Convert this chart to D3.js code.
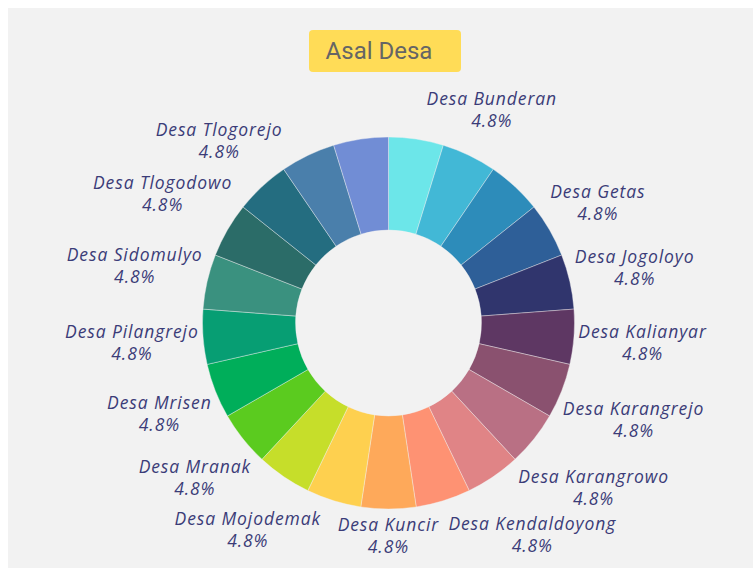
<!DOCTYPE html>
<html>
<head>
<meta charset="utf-8">
<script src="https://cdn.jsdelivr.net/npm/d3@7"></script>
<style>
	html, body { margin: 0; padding: 0; background: #ffffff; }
	svg { display: block; }
</style>
</head>
<body>
<div id="chart"></div>
<script>
// Villages (alphabetical, clockwise from 12 o'clock)
const villages = [
	"Desa Botorejo", "Desa Bunderan", "Desa Doreng", "Desa Getas",
	"Desa Jogoloyo", "Desa Kalianyar", "Desa Karangrejo", "Desa Karangrowo",
	"Desa Kendaldoyong", "Desa Kerangkulon", "Desa Kuncir", "Desa Lempuyang",
	"Desa Mojodemak", "Desa Mranak", "Desa Mrisen", "Desa Pilangrejo",
	"Desa Sidomulyo", "Desa Tlogodowo", "Desa Tlogorejo", "Desa Trengguli",
	"Desa Wonosalam",
];

// Respondents per village
const counts = [1, 1, 1, 1, 1, 1, 1, 1, 1, 1, 1, 1, 1, 1, 1, 1, 1, 1, 1, 1, 1];

// Labels the reference leaves out (crowded)
const hiddenLabels = [
	"Desa Botorejo", "Desa Doreng", "Desa Kerangkulon",
	"Desa Lempuyang", "Desa Trengguli", "Desa Wonosalam",
];

const sliceColors = [
	"#6ce6e9", "#42b8d6", "#2d8cba", "#2e5f98", "#30356d", "#5e3763",
	"#8a516f", "#b97084", "#e08486", "#fe9273", "#fea95a", "#fed04f",
	"#c6de2a", "#5bcb1f", "#00ae5a", "#079e73", "#3a917f", "#2b6c68",
	"#246d80", "#4a7fab", "#718dd5",
];

const width = 753;
const height = 568;
const cx = 388.5;
const cy = 323;
const outerR = 186;
const innerR = 93;
const labelR = 189;

const total = d3.sum(counts);
const pct = (v) => ((v / total) * 100).toFixed(1) + "%";

const svg = d3
	.select("#chart")
	.append("svg")
	.attr("width", width)
	.attr("height", height);

// Panel background
svg
	.append("rect")
	.attr("x", 8)
	.attr("y", 8)
	.attr("width", width)
	.attr("height", height)
	.attr("fill", "#f2f2f2");

// Title badge
svg
	.append("rect")
	.attr("x", 309)
	.attr("y", 30)
	.attr("width", 152)
	.attr("height", 42)
	.attr("rx", 4)
	.attr("fill", "#ffdc57");

svg
	.append("text")
	.attr("x", 379)
	.attr("y", 59)
	.attr("text-anchor", "middle")
	.attr("font-family", "Roboto, sans-serif")
	.attr("font-size", 24)
	.attr("fill", "#656565")
	.text("Asal Desa");

const pie = d3.pie().sort(null).value((d) => d.value);
const arcs = pie(villages.map((name, i) => ({ name, value: counts[i], color: sliceColors[i] })));

const arc = d3.arc().innerRadius(innerR).outerRadius(outerR);

const donut = svg.append("g").attr("transform", `translate(${cx}, ${cy})`);

donut
	.selectAll("path")
	.data(arcs)
	.enter()
	.append("path")
	.attr("d", arc)
	.attr("fill", (d) => d.data.color)
	.attr("stroke", "#f2f2f2")
	.attr("stroke-width", 0.4);

// Labels: placed along the mid angle, box just outside the ring
const labels = donut
	.selectAll("text.label")
	.data(arcs.filter((d) => !hiddenLabels.includes(d.data.name)))
	.enter()
	.append("text")
	.attr("class", "label")
	.attr("text-anchor", "middle")
	.attr("font-family", "'Open Sans', sans-serif")
	.attr("font-style", "italic")
	.attr("font-size", 17.5)
	.attr("letter-spacing", 0.9)
	.attr("fill", "#3b3c78");

labels.append("tspan").attr("x", 0).attr("dy", 0).text((d) => d.data.name);
labels.append("tspan").attr("x", 0).attr("dy", 22).text((d) => pct(d.data.value));

labels.each(function (d) {
	const box = this.getBBox();
	const a = (d.startAngle + d.endAngle) / 2;
	const sx = Math.sin(a);
	const sy = -Math.cos(a);
	const reach = Math.abs(sx) * box.width / 2 + Math.abs(sy) * box.height / 2;
	const px = (labelR + reach) * sx;
	const py = (labelR + reach) * sy;
	const bx = box.x + box.width / 2;
	const by = box.y + box.height / 2;
	d3.select(this).attr("transform", `translate(${px - bx}, ${py - by})`);
});
</script>
</body>
</html>
